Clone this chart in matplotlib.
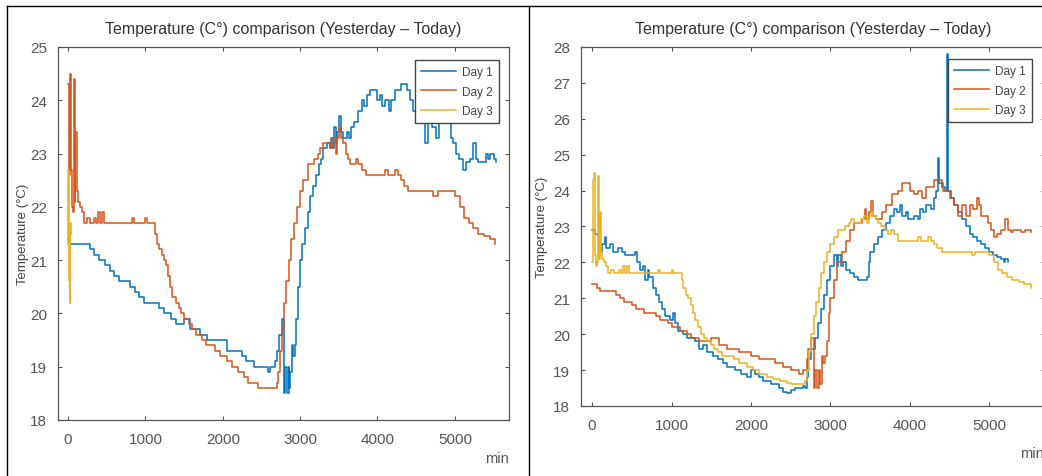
import matplotlib
matplotlib.use("Agg")
import matplotlib.pyplot as plt
from matplotlib.lines import Line2D

plt.rcParams['font.family'] = ['Liberation Sans Narrow', 'Liberation Sans', 'DejaVu Sans']

# ---- left chart (yesterday) ----
left_d1_x = [0, 30, 80, 280, 340, 400, 480, 540, 600, 660, 720, 800, 860, 920, 980, 1040,
             1180, 1240, 1330, 1390, 1500, 1580, 1620, 1700, 1790, 1900, 2050, 2180, 2250, 2300,
             2400, 2580, 2610, 2680, 2700, 2730, 2760, 2790, 2810, 2830, 2850, 2860, 2870, 2890,
             2910, 2930, 2950, 2970, 3000, 3030, 3060, 3100, 3130, 3170, 3200, 3240, 3270, 3300,
             3350, 3380, 3400, 3420, 3440, 3460, 3480, 3500, 3530, 3560, 3600, 3630, 3660, 3700,
             3750, 3800, 3830, 3860, 3900, 3980, 4000, 4030, 4060, 4100, 4150, 4180, 4220, 4300,
             4380, 4420, 4460, 4500, 4560, 4620, 4650, 4700, 4750, 4800, 4900, 4950, 4980, 5020,
             5060, 5110, 5150, 5200, 5240, 5270, 5300, 5400, 5430, 5460, 5500, 5530]
left_d1_y = [21.4, 21.3, 21.3, 21.2, 21.1, 21.0, 20.9, 20.8, 20.7, 20.6, 20.6, 20.5, 20.4, 20.3, 20.2, 20.2,
             20.1, 20.0, 19.9, 19.8, 19.9, 19.7, 19.7, 19.6, 19.5, 19.5, 19.3, 19.3, 19.2, 19.1,
             19.0, 18.9, 19.0, 19.1, 19.3, 19.6, 19.9, 18.5, 19.0, 18.5, 19.0, 18.6, 18.9, 19.4,
             19.2, 19.4, 19.9, 20.5, 21.0, 21.3, 21.6, 21.9, 22.2, 22.4, 22.6, 22.8, 22.9, 23.1,
             23.2, 23.1, 23.3, 23.1, 23.5, 23.2, 23.4, 23.7, 23.4, 23.3, 23.4, 23.3, 23.5, 23.6,
             23.8, 24.0, 23.9, 24.1, 24.2, 24.2, 24.0, 24.1, 23.9, 24.0, 23.8, 24.0, 24.2, 24.3,
             24.2, 24.0, 23.8, 23.7, 23.6, 23.2, 23.6, 23.5, 23.3, 23.6, 23.7, 23.3, 23.2, 23.0,
             22.9, 22.7, 22.85, 22.9, 23.2, 22.9, 22.85, 23.0, 22.9, 23.0, 22.9, 22.85]

left_d2_x = [0, 10, 20, 35, 50, 60, 75, 85, 95, 110, 130, 150, 180, 200, 240, 280, 340, 360,
             390, 410, 440, 460, 830, 850, 1000, 1020, 1130, 1150, 1180, 1210, 1240, 1260, 1290,
             1320, 1350, 1390, 1430, 1460, 1500, 1560, 1600, 1660, 1730, 1780, 1900, 1970, 2050,
             2120, 2200, 2270, 2330, 2450, 2700, 2720, 2740, 2760, 2790, 2820, 2850, 2880, 2920,
             2960, 3000, 3040, 3100, 3180, 3230, 3260, 3300, 3380, 3420, 3460, 3480, 3500, 3530,
             3560, 3590, 3620, 3650, 3720, 3750, 3800, 3850, 4100, 4140, 4230, 4270, 4300, 4340,
             4400, 4720, 4780, 5000, 5070, 5120, 5180, 5230, 5300, 5380, 5450, 5520]
left_d2_y = [24.3, 22.6, 24.5, 22.7, 22.0, 21.9, 24.4, 22.1, 23.4, 22.3, 22.1, 22.0, 21.9, 21.7, 21.8, 21.7, 21.8, 21.7,
             21.9, 21.7, 21.9, 21.7, 21.8, 21.7, 21.8, 21.7, 21.5, 21.3, 21.2, 21.1, 21.0, 20.9, 20.7,
             20.5, 20.3, 20.2, 20.1, 20.0, 19.9, 19.8, 19.7, 19.6, 19.5, 19.4, 19.3, 19.2, 19.1,
             19.0, 18.9, 18.8, 18.7, 18.6, 18.7, 18.9, 19.3, 19.7, 20.2, 20.6, 21.0, 21.4, 21.7,
             22.0, 22.3, 22.5, 22.8, 22.9, 23.0, 23.1, 23.2, 23.1, 23.3, 23.0, 23.3, 23.5, 23.3,
             23.2, 23.0, 22.9, 22.8, 22.9, 22.8, 22.7, 22.6, 22.7, 22.6, 22.7, 22.6, 22.5, 22.4,
             22.3, 22.2, 22.3, 22.2, 22.0, 21.8, 21.7, 21.6, 21.5, 21.45, 21.4, 21.3]

left_d3_x = [0, 5, 10, 15, 20, 25, 30, 35, 40]
left_d3_y = [21.3, 22.7, 21.4, 20.6, 21.6, 20.2, 21.7, 21.5, 21.5]

# ---- right chart (today) ----
right_d1_x = [0, 40, 80, 100, 130, 160, 180, 220, 260, 320, 380, 420, 540, 560, 600, 640, 660,
              700, 720, 760, 800, 840, 880, 920, 980, 1020, 1040, 1080, 1150, 1200, 1300, 1350,
              1400, 1450, 1520, 1580, 1650, 1700, 1800, 1880, 1950, 2000, 2050, 2100, 2150, 2250,
              2350, 2400, 2450, 2500, 2550, 2650, 2680, 2700, 2720, 2760, 2800, 2840, 2880, 2920,
              2960, 3000, 3040, 3080, 3100, 3130, 3160, 3200, 3250, 3300, 3350, 3460, 3480, 3500,
              3550, 3600, 3650, 3700, 3750, 3800, 3840, 3870, 3900, 3950, 3980, 4050, 4100, 4130,
              4160, 4200, 4260, 4300, 4330, 4350, 4360, 4400, 4440, 4465, 4475, 4480, 4520, 4560,
              4600, 4650, 4700, 4750, 4800, 4850, 4900, 4950, 5000, 5050, 5100, 5150, 5180, 5200, 5230]
right_d1_y = [22.9, 22.8, 22.7, 22.3, 22.5, 22.7, 22.4, 22.5, 22.3, 22.4, 22.3, 22.2, 22.3, 22.0, 21.8, 21.9, 21.5,
              21.8, 21.6, 21.3, 21.1, 20.9, 20.7, 20.5, 20.4, 20.6, 20.3, 20.1, 20.0, 19.9, 19.8, 19.6,
              19.7, 19.5, 19.4, 19.3, 19.2, 19.1, 19.0, 18.9, 18.8, 19.0, 18.9, 18.8, 18.7, 18.6,
              18.5, 18.4, 18.35, 18.45, 18.5, 18.55, 18.5, 18.8, 19.3, 19.6, 19.9, 20.3, 20.7, 21.1,
              21.5, 21.9, 22.2, 21.9, 22.2, 21.9, 22.0, 21.8, 21.7, 21.6, 21.5, 21.6, 22.0, 22.3,
              22.5, 22.7, 22.9, 23.1, 23.3, 23.5, 23.4, 23.6, 23.3, 23.4, 23.2, 23.3, 23.2, 23.5,
              23.4, 23.6, 23.5, 23.8, 24.0, 24.9, 24.2, 24.1, 24.0, 27.8, 26.4, 24.0, 23.8, 23.6,
              23.4, 23.2, 23.0, 22.8, 22.7, 22.6, 22.5, 22.4, 22.3, 22.2, 22.15, 22.1, 22.0, 22.1, 22.0]

right_d2_x = [0, 60, 100, 300, 350, 400, 500, 550, 650, 800, 850, 950, 1000, 1100, 1200, 1250,
              1350, 1500, 1600, 1700, 1850, 2000, 2100, 2300, 2400, 2500, 2600, 2660, 2700, 2720,
              2750, 2790, 2810, 2830, 2850, 2870, 2890, 2910, 2930, 2960, 2980, 3000, 3040, 3080,
              3150, 3200, 3250, 3300, 3400, 3430, 3450, 3480, 3510, 3540, 3570, 3650, 3700, 3780,
              3850, 3900, 3980, 4000, 4050, 4100, 4150, 4200, 4300, 4400, 4420, 4500, 4550, 4600,
              4650, 4700, 4750, 4800, 4840, 4870, 4900, 4980, 5020, 5060, 5100, 5150, 5200, 5240,
              5270, 5300, 5400, 5450, 5500, 5530]
right_d2_y = [21.4, 21.3, 21.2, 21.1, 21.0, 20.9, 20.8, 20.7, 20.6, 20.5, 20.4, 20.3, 20.2, 20.1, 20.0, 19.9,
              19.8, 19.9, 19.7, 19.6, 19.5, 19.4, 19.3, 19.2, 19.1, 19.0, 18.9, 19.0, 19.3, 19.6,
              19.9, 18.5, 19.0, 18.5, 19.0, 18.6, 19.4, 19.2, 19.4, 19.8, 20.6, 21.0, 21.5, 22.0,
              22.3, 22.6, 22.9, 23.1, 23.2, 23.5, 23.2, 23.4, 23.7, 23.3, 23.2, 23.4, 23.6, 23.9,
              24.0, 24.2, 24.2, 24.0, 23.9, 24.0, 23.8, 24.1, 24.3, 24.2, 24.0, 23.8, 23.6, 23.3,
              23.6, 23.3, 23.6, 23.5, 23.8, 23.6, 23.3, 23.1, 22.9, 22.7, 22.8, 22.9, 23.2, 22.9,
              22.85, 22.9, 22.85, 22.9, 22.9, 22.85]

right_d3_x = [0, 10, 20, 35, 50, 60, 75, 85, 95, 110, 130, 150, 180, 200, 240, 280, 340, 360,
              390, 410, 440, 460, 830, 850, 1000, 1020, 1130, 1150, 1180, 1210, 1240, 1270, 1300,
              1330, 1370, 1410, 1450, 1490, 1530, 1580, 1640, 1700, 1780, 1850, 1950, 2030, 2100,
              2200, 2280, 2360, 2450, 2500, 2680, 2700, 2730, 2760, 2790, 2820, 2850, 2880, 2920,
              2960, 3000, 3040, 3100, 3180, 3230, 3260, 3300, 3380, 3420, 3460, 3480, 3510, 3540,
              3570, 3600, 3640, 3680, 3720, 3760, 3800, 3850, 4100, 4140, 4230, 4270, 4300, 4340,
              4400, 4780, 4820, 5000, 5060, 5110, 5160, 5220, 5290, 5370, 5440, 5520]
right_d3_y = [22.0, 24.3, 24.5, 22.2, 21.9, 22.0, 24.4, 22.1, 23.4, 22.3, 22.1, 22.0, 21.9, 21.7, 21.8, 21.7, 21.8, 21.7,
              21.9, 21.7, 21.9, 21.7, 21.8, 21.7, 21.8, 21.7, 21.5, 21.3, 21.1, 21.0, 20.8, 20.6, 20.4,
              20.2, 20.0, 19.9, 19.8, 19.7, 19.6, 19.5, 19.4, 19.4, 19.3, 19.2, 19.1, 19.0, 18.9,
              18.8, 18.75, 18.7, 18.65, 18.6, 18.7, 19.0, 19.5, 20.0, 20.5, 20.9, 21.3, 21.7, 22.0,
              22.3, 22.5, 22.7, 22.9, 23.0, 23.1, 23.2, 23.1, 23.2, 23.3, 23.1, 23.3, 23.4, 23.3,
              23.2, 23.1, 23.0, 22.9, 22.8, 22.9, 22.8, 22.6, 22.7, 22.6, 22.7, 22.6, 22.5, 22.4,
              22.3, 22.2, 22.3, 22.2, 22.0, 21.8, 21.7, 21.6, 21.5, 21.45, 21.4, 21.3]

labels = ['Day 1', 'Day 2', 'Day 3']
colors = ['#0072BD', '#D95319', '#EDB120']
title = 'Temperature (C\u00b0) comparison (Yesterday \u2013 Today)'

W, H = 1042, 477
fig = plt.figure(figsize=(W / 100, H / 100), dpi=100)


def px(x0, y0, x1, y1):
    # pixel box -> figure fraction [left, bottom, width, height]
    return [x0 / W, 1 - y1 / H, (x1 - x0) / W, (y1 - y0) / H]


def draw(ax, series, ylim, yticks, xlim):
    for (xs, ys), c, lab in zip(series, colors, labels):
        ax.plot(xs, ys, drawstyle='steps-post', color=c, lw=1.1, label=lab)
    ax.set_xlim(*xlim)
    ax.set_ylim(*ylim)
    ax.set_xticks([0, 1000, 2000, 3000, 4000, 5000])
    ax.set_yticks(yticks)
    ax.tick_params(direction='in', top=True, right=True, length=3, width=0.8,
                   colors='#555555', labelsize=11, pad=8)
    ax.tick_params(axis='x', pad=9)
    for s in ax.spines.values():
        s.set_color('#555555')
        s.set_linewidth(0.9)
    ax.set_ylabel('Temperature (\u00b0C)', fontsize=9.5, color='#444444')
    ax.set_title(title, fontsize=11.5, color='#333333', pad=10)
    leg = ax.legend(loc='upper right', fontsize=8.5, handlelength=3.0, frameon=True,
                    fancybox=False, borderpad=0.5, labelspacing=0.65, handletextpad=0.5,
                    borderaxespad=0, framealpha=1.0)
    leg.get_frame().set_edgecolor('#444444')
    leg.get_frame().set_linewidth(1.0)
    for t in leg.get_texts():
        t.set_color('#444444')
    return leg


ax1 = fig.add_axes(px(58, 48, 509, 421))
leg1 = draw(ax1, [(left_d1_x, left_d1_y), (left_d2_x, left_d2_y), (left_d3_x, left_d3_y)],
            (18, 25), range(18, 26), (-130, 5700))
leg1.set_bbox_to_anchor((499 / W, 1 - 61 / H), transform=fig.transFigure)
ax1.yaxis.set_label_coords(-0.064, 0.5)
fig.text(497 / W, 1 - 459 / H, 'min', ha='center', va='center', fontsize=10.5, color='#555555')

ax2 = fig.add_axes(px(581, 48, 1045, 407))
leg2 = draw(ax2, [(right_d1_x, right_d1_y), (right_d2_x, right_d2_y), (right_d3_x, right_d3_y)],
            (18, 28), range(18, 29), (-140, 5700))
leg2.set_bbox_to_anchor((1032 / W, 1 - 60 / H), transform=fig.transFigure)
ax2.yaxis.set_label_coords(-0.071, 0.5)
fig.text(1032 / W, 1 - 454 / H, 'min', ha='center', va='center', fontsize=10.5, color='#555555')

# screenshot panel borders
for xs, ys in [([7, 7], [7, 477]), ([7, 1042], [7, 7]), ([529, 529], [7, 477])]:
    fig.add_artist(Line2D([x / W for x in xs], [1 - y / H for y in ys], color='black', lw=1.0))

fig.savefig('out.png', dpi=100)
